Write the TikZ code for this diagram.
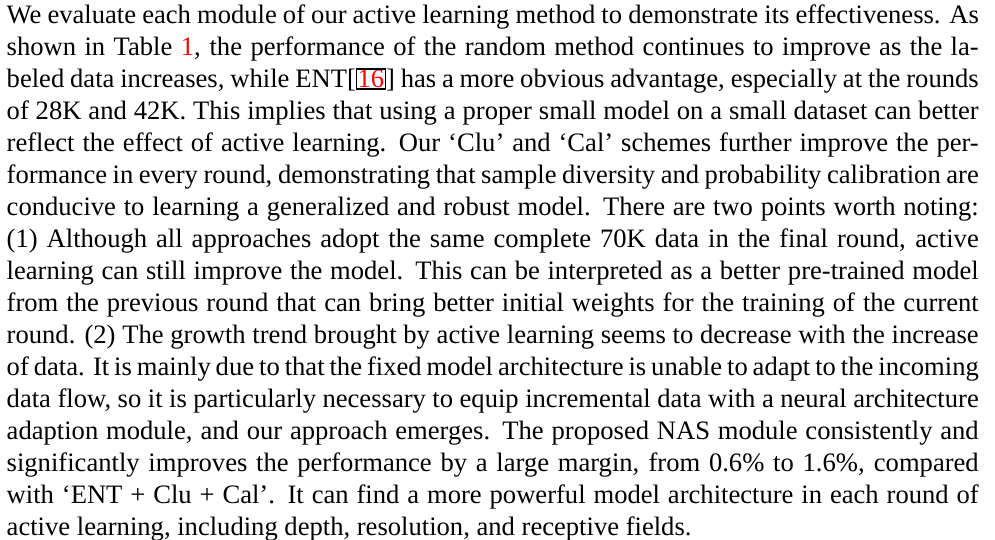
\documentclass[tikz,border=0pt]{standalone}
\usepackage{fontspec}
\setmainfont{Liberation Serif}
\usepackage{xcolor}
\newcommand\jline[1]{\hbox to 972pt{#1}}
\newcommand\redref[1]{\textcolor{red}{#1}}
\newcommand\boxref[1]{{\setlength\fboxsep{0.3pt}\setlength\fboxrule{1.5pt}\color{black}\fbox{\textcolor{red}{#1}}}}
\tikzset{ln/.style={anchor=base west, inner sep=0pt, font=\fontsize{26.6}{32}\selectfont}}
\begin{document}
\begin{tikzpicture}[x=1pt,y=1pt]
\useasboundingbox (0,0) rectangle (995,540);
\fill[white] (0,0) rectangle (995,540);
\node[ln] (l1) at (6.5,516.5) {\jline{We evaluate each module of our active learning method to demonstrate its effectiveness. As}};
\node[ln] (l2) at (6.5,484.5) {\jline{shown in Table \redref{1}, the performance of the random method continues to improve as the la-}};
\node[ln] (l3) at (6.5,452.5) {\jline{beled data increases, while ENT[\boxref{16}] has a more obvious advantage, especially at the rounds}};
\node[ln] (l4) at (6.5,420.5) {\jline{of 28K and 42K. This implies that using a proper small model on a small dataset can better}};
\node[ln] (l5) at (6.5,388.5) {\jline{reflect the effect of active learning. Our `Clu' and `Cal' schemes further improve the per-}};
\node[ln] (l6) at (6.5,356.5) {\jline{formance in every round, demonstrating that sample diversity and probability calibration are}};
\node[ln] (l7) at (6.5,324.5) {\jline{conducive to learning a generalized and robust model. There are two points worth noting:}};
\node[ln] (l8) at (6.5,292.5) {\jline{(1) Although all approaches adopt the same complete 70K data in the final round, active}};
\node[ln] (l9) at (6.5,260.5) {\jline{learning can still improve the model. This can be interpreted as a better pre-trained model}};
\node[ln] (l10) at (6.5,228.5) {\jline{from the previous round that can bring better initial weights for the training of the current}};
\node[ln] (l11) at (6.5,196.5) {\jline{round. (2) The growth trend brought by active learning seems to decrease with the increase}};
\node[ln] (l12) at (6.5,164.5) {\jline{of data. It is mainly due to that the fixed model architecture is unable to adapt to the incoming}};
\node[ln] (l13) at (6.5,132.5) {\jline{data flow, so it is particularly necessary to equip incremental data with a neural architecture}};
\node[ln] (l14) at (6.5,100.5) {\jline{adaption module, and our approach emerges. The proposed NAS module consistently and}};
\node[ln] (l15) at (6.5,68.5) {\jline{significantly improves the performance by a large margin, from 0.6$\%$ to 1.6$\%$, compared}};
\node[ln] (l16) at (6.5,36.5) {\jline{with `ENT + Clu + Cal'. It can find a more powerful model architecture in each round of}};
\node[ln] (l17) at (6.5,4.5) {active learning, including depth, resolution, and receptive fields.};
\end{tikzpicture}
\end{document}
